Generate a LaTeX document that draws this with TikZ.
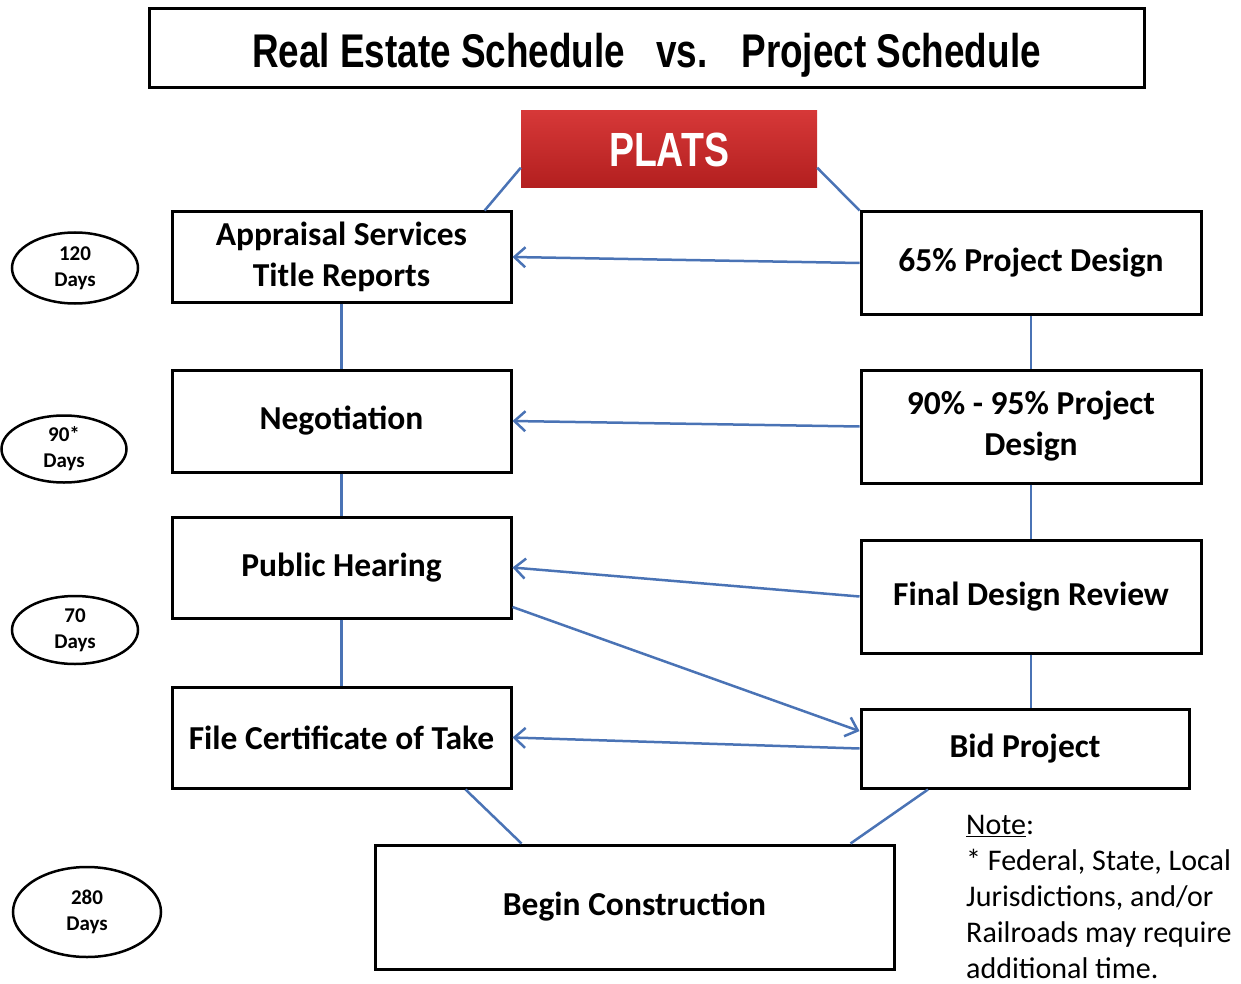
\documentclass[tikz,border=0pt]{standalone}
\usepackage{fontspec}
\setmainfont{Carlito}
\newfontfamily\condfont[FakeStretch=0.78]{Liberation Sans}
\usetikzlibrary{arrows.meta,shapes.geometric}
\definecolor{linkcolor}{rgb}{0.290000, 0.450000, 0.710000}
\definecolor{platstop}{rgb}{0.840000, 0.220000, 0.220000}
\definecolor{platsbottom}{rgb}{0.700000, 0.120000, 0.120000}
\newlength{\du}
\setlength{\du}{1pt}

\begin{document}
\begin{tikzpicture}[
  blockbox/.style={draw=black, line width=3\du, fill=white, align=center, inner sep=0pt,
    font=\fontsize{33.5}{41}\selectfont\bfseries},
  dayoval/.style={draw=black, ellipse, line width=2.5\du, align=center, inner sep=0pt,
    font=\fontsize{21}{26}\selectfont\bfseries},
  link/.style={draw=linkcolor, line width=2.5\du},
  linkarrow/.style={link, -{Straight Barb[length=11pt,width=20pt]}}
]
\pgftransformxscale{1.000000}
\pgftransformyscale{-1.000000}
\useasboundingbox (0\du,0\du) rectangle (1241\du,984\du);
% title and plats
\node[blockbox, minimum width=995\du, minimum height=79\du, text height=39\du, text depth=0\du, font=\condfont\bfseries\fontsize{47.3}{56}\selectfont] (title) at (646.5\du,48.5\du){Real Estate Schedule \ \ vs. \ \ Project Schedule};
\node[top color=platstop, bottom color=platsbottom, minimum width=296\du, minimum height=77\du, text=white, font=\condfont\bfseries\fontsize{48}{56}\selectfont] (plats) at (669\du,149.5\du){PLATS};
% real estate side
\node[blockbox, minimum width=339\du, minimum height=90\du] (appraisal) at (341.5\du,257\du){Appraisal Services\\Title Reports};
\node[blockbox, minimum width=339\du, minimum height=102\du] (negotiation) at (341.5\du,421\du){Negotiation};
\node[blockbox, minimum width=339\du, minimum height=101\du] (hearing) at (341.5\du,567.5\du){Public Hearing};
\node[blockbox, minimum width=339\du, minimum height=101\du] (take) at (341.5\du,737.5\du){File Certificate of Take};
% project side
\node[blockbox, minimum width=340\du, minimum height=102\du] (design65) at (1031\du,263\du){65\% Project Design};
\node[blockbox, minimum width=340\du, minimum height=113\du] (design90) at (1031\du,426.5\du){90\% - 95\% Project\\Design};
\node[blockbox, minimum width=340\du, minimum height=113\du] (review) at (1031\du,596.5\du){Final Design Review};
\node[blockbox, minimum width=328\du, minimum height=79\du] (bid) at (1025\du,748.5\du){Bid Project};
\node[blockbox, minimum width=519\du, minimum height=124\du] (construction) at (634.5\du,907\du){Begin Construction};
% days
\node[dayoval, minimum width=126\du, minimum height=71\du] (days120) at (75\du,268\du){120\\Days};
\node[dayoval, minimum width=125\du, minimum height=67\du] (days90) at (64\du,449\du){90*\\Days};
\node[dayoval, minimum width=126\du, minimum height=68\du] (days70) at (75\du,630\du){70\\Days};
\node[dayoval, minimum width=148\du, minimum height=90\du] (days280) at (87\du,912\du){280\\Days};
% setfont left to latex
\node[anchor=north west, align=left, inner sep=0pt, font=\fontsize{30}{36}\selectfont] (note) at (966\du,815\du){\underline{Note}:\\* Federal, State, Local\\Jurisdictions, and/or\\Railroads may require\\additional time.};
% connectors
\draw[link] (plats.187)--(appraisal.18);
\draw[link] (plats.-7)--(design65.north west);
\draw[link] (appraisal.south)--(negotiation.north);
\draw[link] (negotiation.south)--(hearing.north);
\draw[link] (hearing.south)--(take.north);
\draw[link] (design65.south)--(design90.north);
\draw[link] (design90.south)--(review.north);
\draw[link] (review.south)--(review.south |- bid.north);
\draw[link] ([xshift=124\du]take.south)--([xshift=-113\du]construction.north);
\draw[link] ([xshift=-97\du]bid.south)--([xshift=216\du]construction.north);
\draw[linkarrow] (design65.west)--(appraisal.east);
\draw[linkarrow] (design90.west)--(negotiation.east);
\draw[linkarrow] (review.west)--(hearing.east);
\draw[linkarrow] (hearing.-13)--(bid.174);
\draw[linkarrow] (bid.west)--(take.east);
\end{tikzpicture}
\end{document}
